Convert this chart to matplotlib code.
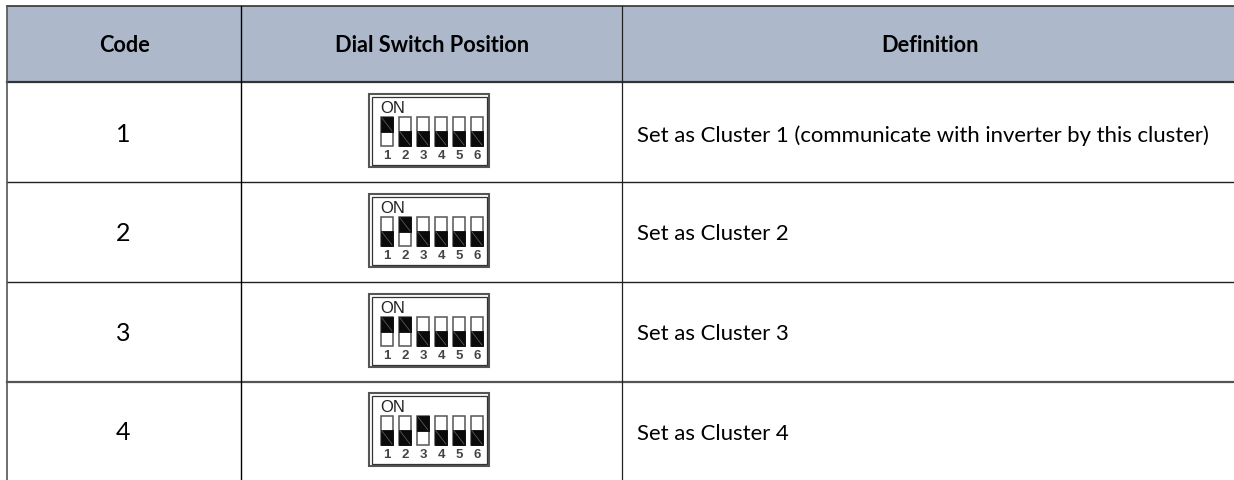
#!/usr/bin/env python
"""Dial switch code table, redrawn in pixel coordinates."""
import matplotlib
matplotlib.use('Agg')
import matplotlib.pyplot as plt
from matplotlib.patches import Rectangle

# ── Data ───────────────────────────────────────────────────────────────
headers = ["Code", "Dial Switch Position", "Definition"]
codes = ["1", "2", "3", "4"]
definitions = [
    "Set as Cluster 1 (communicate with inverter by this cluster)",
    "Set as Cluster 2",
    "Set as Cluster 3",
    "Set as Cluster 4",
]
# which switches are up, one list per row
dial_states = [
    [1, 0, 0, 0, 0, 0],
    [0, 1, 0, 0, 0, 0],
    [1, 1, 0, 0, 0, 0],
    [0, 0, 1, 0, 0, 0],
]
switch_labels = ["1", "2", "3", "4", "5", "6"]

# ── Layout (pixels of the 1234x480 image) ──────────────────────────────
col_x = [7, 241, 622, 1234]
row_y = [6, 82, 182, 282, 382, 480]
dial_top = [94, 194, 294, 393]
code_y = [134.5, 233.5, 333.5, 432.5]
text_y = [135.5, 234, 334, 434]
DIAL_X = 369
DIAL_W = 120
DIAL_H = 73
HEADER_BG = '#adb9ca'
FONT = 'Lato'


def draw_dial(ax, top, states):
    ax.add_patch(Rectangle((DIAL_X, top), DIAL_W, DIAL_H, fc='white', ec='#555555', lw=1.5))
    ax.add_patch(Rectangle((DIAL_X + 2.5, top + 2.5), DIAL_W - 5, DIAL_H - 5, fc='white', ec='#333333', lw=0.9))
    ax.text(DIAL_X + 24, top + 14.5, "ON", family='Liberation Sans', fontsize=12, color='#222222',
            ha='center', va='center')
    for i, (up, label) in enumerate(zip(states, switch_labels)):
        x = DIAL_X + 12 + 18 * i
        y = top + 23
        ax.add_patch(Rectangle((x, y), 12, 29, fc='white', ec='#555555', lw=1.1))
        knob_y = y if up else y + 14
        ax.add_patch(Rectangle((x, knob_y), 12, 15, fc='#0a0a0a', ec='#0a0a0a', lw=0.6))
        ax.plot([x + 1, x + 11], [knob_y + 1, knob_y + 14], color='#666666', lw=0.5)
        ax.text(x + 6, top + 62, label, family='Liberation Sans', fontsize=9.5, fontweight='bold',
                color='#444444', ha='center', va='center')


# ── Figure ─────────────────────────────────────────────────────────────
fig = plt.figure(figsize=(12.34, 4.8), dpi=100)
ax = fig.add_axes([0, 0, 1, 1])
ax.set_xlim(0, 1234)
ax.set_ylim(480, 0)
ax.axis('off')

# header band
ax.add_patch(Rectangle((col_x[0], row_y[0]), col_x[-1] - col_x[0], row_y[1] - row_y[0], fc=HEADER_BG, ec='none'))

# grid lines, no right or bottom border in the crop
ax.plot([col_x[0], col_x[-1]], [row_y[0], row_y[0]], color='#333333', lw=1.2)
ax.plot([col_x[0], col_x[-1]], [row_y[1], row_y[1]], color='#333333', lw=1.6)
ax.plot([col_x[0], col_x[-1]], [row_y[2], row_y[2]], color='#222222', lw=1.0)
ax.plot([col_x[0], col_x[-1]], [row_y[3], row_y[3]], color='#222222', lw=1.0)
ax.plot([col_x[0], col_x[-1]], [row_y[4], row_y[4]], color='#555555', lw=1.6)
ax.plot([col_x[0], col_x[0]], [row_y[0], row_y[-1]], color='#555555', lw=1.2)
ax.plot([col_x[1], col_x[1]], [row_y[0], row_y[-1]], color='black', lw=1.0)
ax.plot([col_x[2], col_x[2]], [row_y[0], row_y[-1]], color='#222222', lw=0.9)

# header text
header_centers = [124, 432, 930]
for cx, label in zip(header_centers, headers):
    ax.text(cx, 46, label, family=FONT, fontsize=15.7, fontweight='bold', color='black', ha='center', va='center')

# rows
for i in range(4):
    ax.text(123, code_y[i], codes[i], family=FONT, fontsize=18, color='black', ha='center', va='center')
    ax.text(637, text_y[i], definitions[i], family=FONT, fontsize=15.9, color='black', ha='left', va='center')
    draw_dial(ax, dial_top[i], dial_states[i])

fig.savefig('out.png', dpi=100)
